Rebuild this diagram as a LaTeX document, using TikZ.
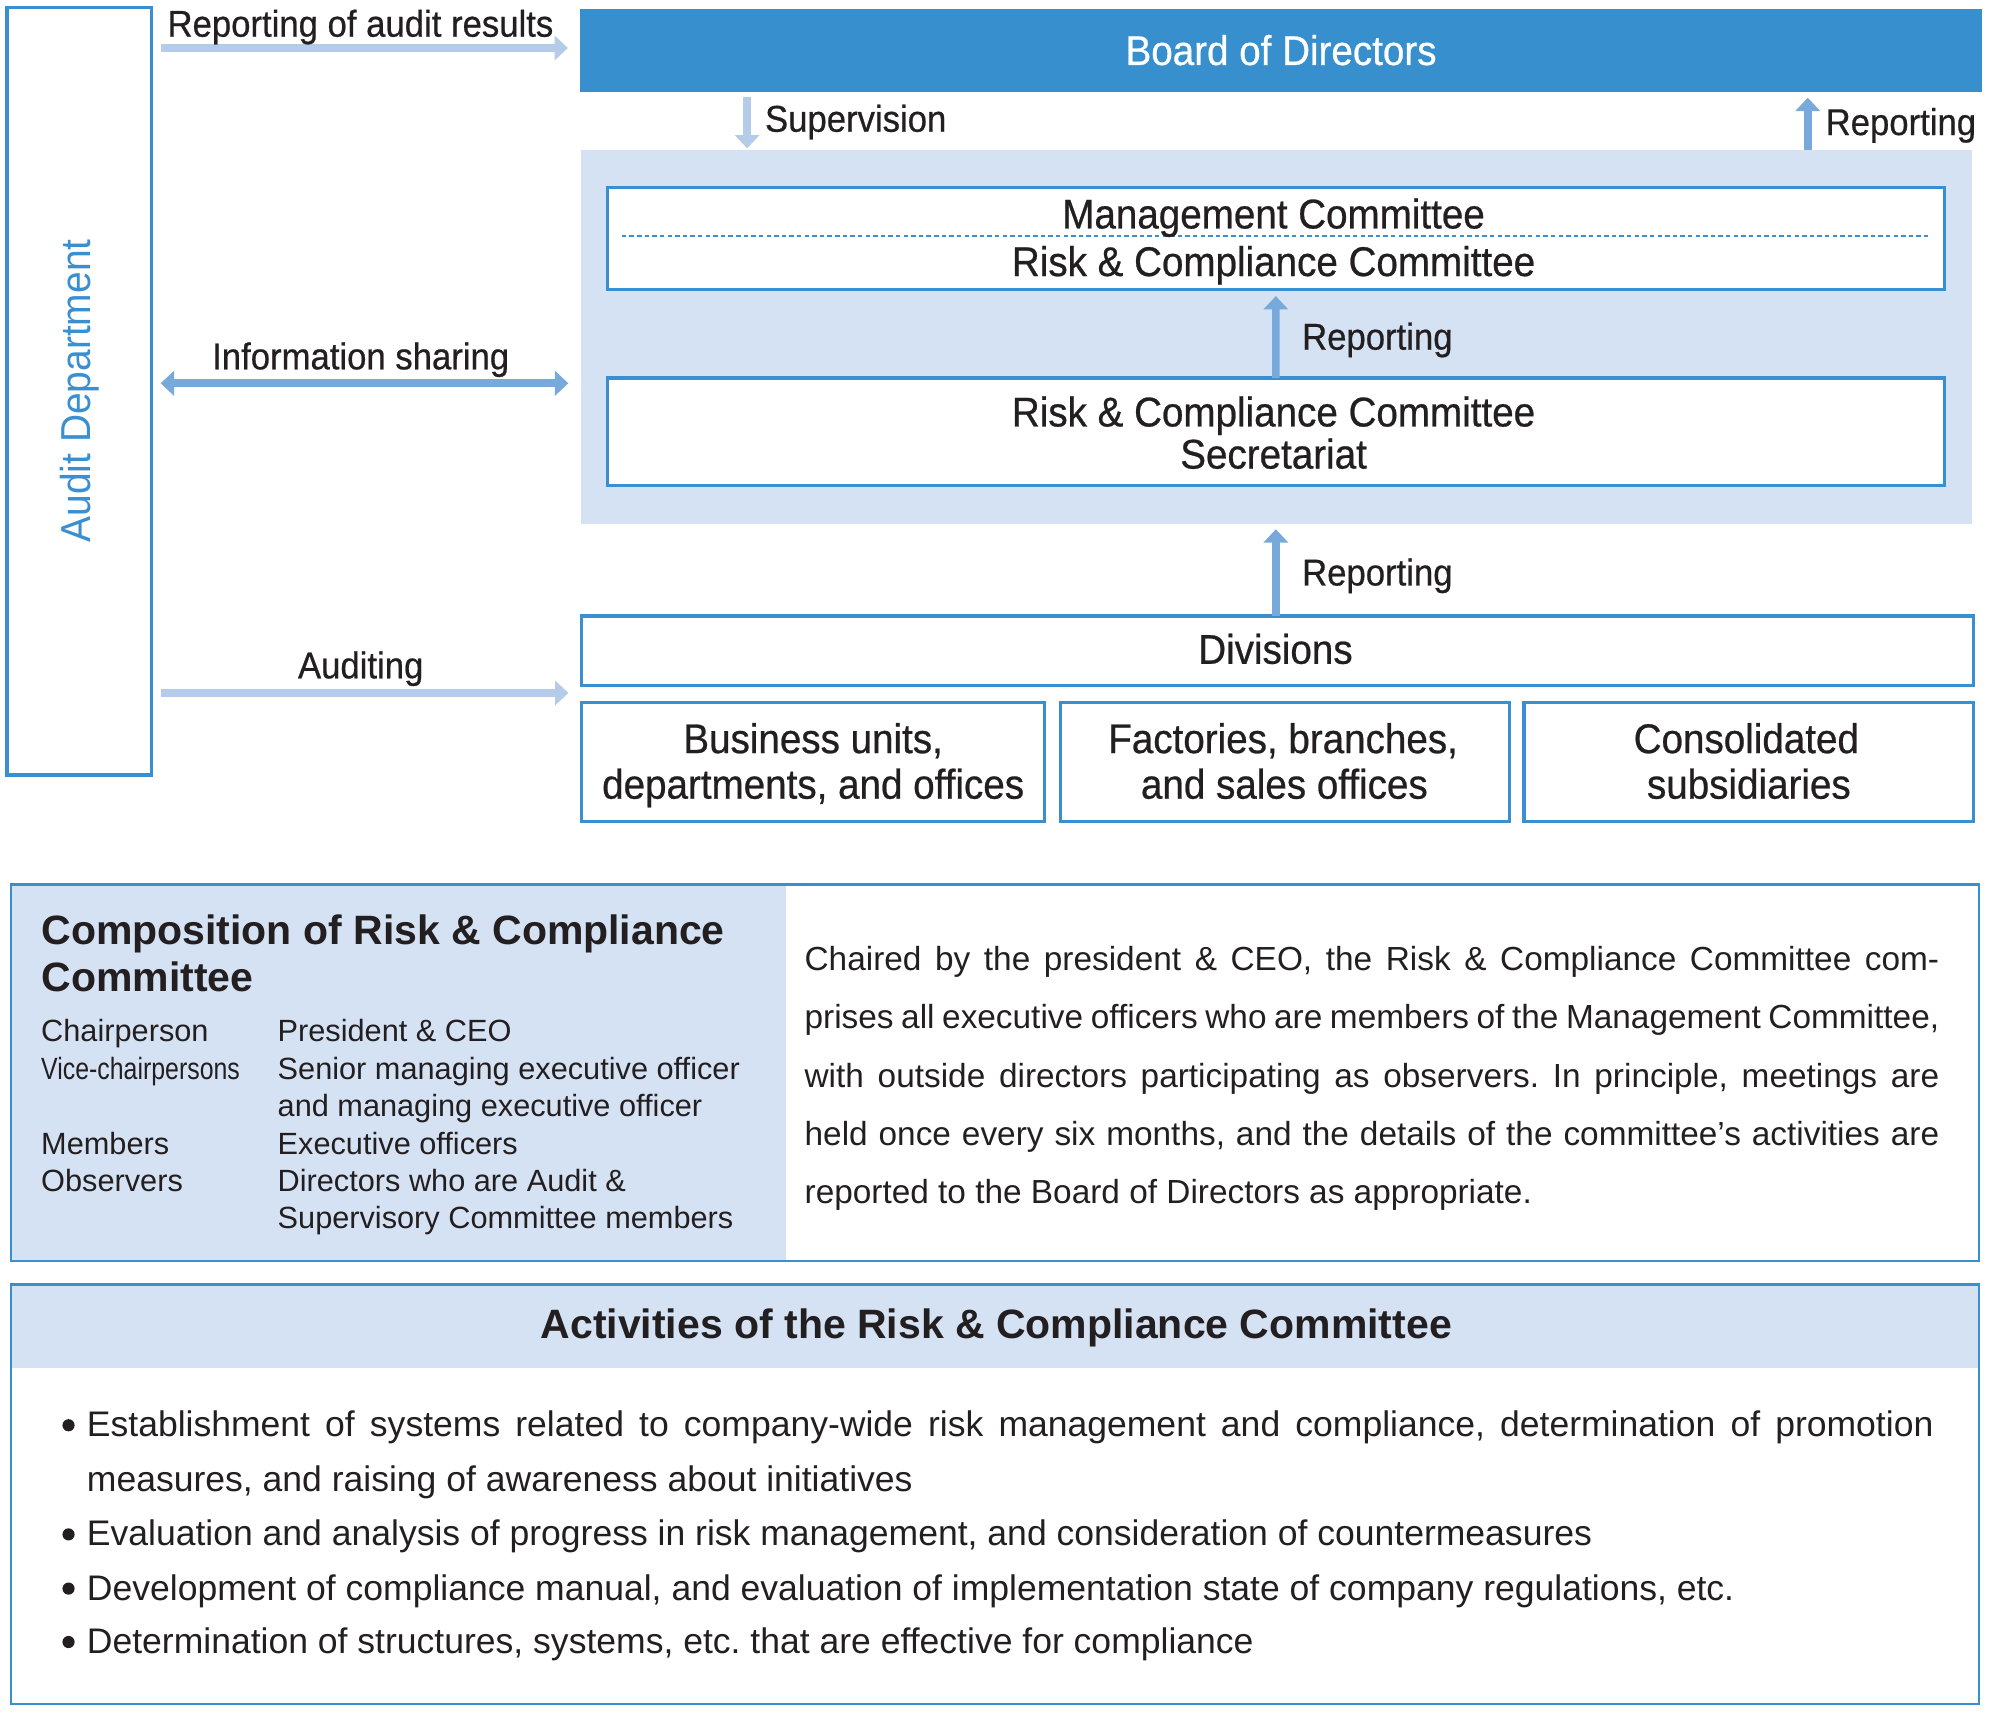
\documentclass[tikz,border=0pt]{standalone}
\usepackage{fontspec}
\setmainfont{Liberation Sans}
\newfontfamily\condfont[FakeStretch=0.93,FakeBold=0.6]{Liberation Sans}
\newfontfamily\vicefont[FakeStretch=0.81]{Liberation Sans}
\newfontfamily\auditfont[FakeStretch=0.93]{Liberation Sans}
\usetikzlibrary{arrows.meta}
\definecolor{bdark}{RGB}{55,143,206}
\definecolor{bline}{RGB}{58,143,208}
\definecolor{bpanel}{RGB}{213,226,243}
\definecolor{alight}{RGB}{180,204,234}
\definecolor{amed}{RGB}{120,169,219}
\definecolor{txtc}{RGB}{35,31,32}
\frenchspacing
\begin{document}
\begin{tikzpicture}[x=1pt,y=-1pt,
  every node/.style={inner sep=0pt,outer sep=0pt,text=txtc},
  boxtext/.style={anchor=base,font=\condfont\fontsize{32.7pt}{36pt}\selectfont},
  flowlabel/.style={font=\condfont\fontsize{29.4pt}{32pt}\selectfont},
  bluebox/.style={draw=bline,line width=2.7pt,fill=white},
  arrlight/.style={draw=alight,line width=6pt,-{Triangle[width=19pt,length=10.5pt]}},
  arrmed/.style={draw=amed,line width=6pt,-{Triangle[width=19pt,length=10.5pt]}},
  arrboth/.style={draw=amed,line width=6pt,{Triangle[width=19pt,length=10.5pt]}-{Triangle[width=19pt,length=10.5pt]}},
  tabtext/.style={anchor=base west,font=\fontsize{24.2pt}{29pt}\selectfont},
  paratext/.style={anchor=base west,font=\fontsize{26.3pt}{46pt}\selectfont},
  bullettext/.style={anchor=base west,font=\fontsize{28pt}{43pt}\selectfont},
  bulletdot/.style={circle,fill=txtc,minimum size=9.6pt},
  headtext/.style={font=\bfseries\fontsize{32.3pt}{38pt}\selectfont}
]
\useasboundingbox (0,0) rectangle (1568,1351.3);

% ---------- Audit department ----------
\node[bluebox,line width=2.6pt,minimum width=113.8pt,minimum height=604.7pt] (audit) at (62.4,308.35) {};
\node[rotate=90,anchor=base,text=bline,font=\auditfont\fontsize{33pt}{36pt}\selectfont] (audittxt) at (71.5,308) {Audit Department};

% ---------- Board ----------
\node[fill=bdark,minimum width=1104.4pt,minimum height=65.1pt] (board) at (1009.4,39.65) {};
\node[boxtext,text=white] (boardtxt) at (1009.4,51.2) {Board of Directors};

% ---------- Panel ----------
\node[fill=bpanel,minimum width=1096.2pt,minimum height=294.8pt] (panel) at (1005.6,265.6) {};

\node[bluebox,minimum width=1053.5pt,minimum height=80.4pt] (mgmt) at (1005.25,187.8) {};
\draw[bline,line width=1.1pt,dash pattern=on 3.5pt off 2.5pt] ([xshift=11.5pt]mgmt.west |- 0,186) -- ([xshift=-13pt]mgmt.east |- 0,186);
\node[boxtext] (mgmt1) at (1003.5,180) {Management Committee};
\node[boxtext] (mgmt2) at (1003.5,217.5) {Risk \& Compliance Committee};

\node[bluebox,minimum width=1053.7pt,minimum height=84.5pt] (secr) at (1005.3,340.2) {};
\node[boxtext] (secr1) at (1003.5,336) {Risk \& Compliance Committee};
\node[boxtext] (secr2) at (1003.5,369.2) {Secretariat};

% ---------- Divisions ----------
\node[bluebox,minimum width=1096.8pt,minimum height=54.7pt] (div) at (1006.8,512.75) {};
\node[boxtext] (divtxt) at (1005,523) {Divisions};

\node[bluebox,minimum width=364.6pt,minimum height=93.7pt] (b1) at (640.7,600.25) {};
\node[bluebox,minimum width=353.5pt,minimum height=93.7pt] (b2) at (1012.55,600.25) {};
\node[bluebox,minimum width=354.5pt,minimum height=93.7pt] (b3) at (1377.95,600.25) {};
\node[boxtext] (b1a) at (640.7,593.4) {Business units,};
\node[boxtext] (b1b) at (640.7,629.3) {departments, and offices};
\node[boxtext] (b2a) at (1011,593.4) {Factories, branches,};
\node[boxtext] (b2b) at (1012,629.3) {and sales offices};
\node[boxtext] (b3a) at (1376,593.4) {Consolidated};
\node[boxtext] (b3b) at (1378,629.3) {subsidiaries};

% ---------- Connectors ----------
\coordinate (yA) at (0,37.8);
\coordinate (yI) at (0,302);
\coordinate (yD) at (0,546);
\coordinate (xS) at (588.7,0);
\coordinate (xR) at (1424.4,0);

\draw[arrlight] ([xshift=7.3pt]audit.east |- yA) -- ([xshift=-9.7pt]board.west |- yA);
\draw[arrboth] ([xshift=7.3pt]audit.east |- yI) -- ([xshift=-9.7pt]panel.west |- yI);
\draw[arrlight] ([xshift=7.3pt]audit.east |- yD) -- ([xshift=-10.5pt]div.west |- yD);

\draw[arrlight] ([yshift=-4pt]board.south -| xS) -- ([yshift=1.3pt]panel.north -| xS);
\draw[arrmed] (panel.north -| xR) -- ([yshift=-4.8pt]board.south -| xR);
\draw[arrmed] (secr.north) -- ([yshift=-5.3pt]mgmt.south);
\draw[arrmed] (div.north -| secr.north) -- ([yshift=-4pt]panel.south -| secr.north);

\node[flowlabel,anchor=base] (lA) at (284,28.9) {Reporting of audit results};
\node[flowlabel,anchor=base] (lI) at (284.2,291) {Information sharing};
\node[flowlabel,anchor=base] (lD) at (284.2,534.5) {Auditing};
\node[flowlabel,anchor=base west] (lS) at (602.8,103.8) {Supervision};
\node[flowlabel,anchor=base west] (lR) at (1438.5,106.4) {Reporting};
\node[flowlabel,anchor=base west] (lM) at (1026,275.5) {Reporting};
\node[flowlabel,anchor=base west] (lL) at (1026,461.3) {Reporting};

% ---------- Composition box ----------
\fill[bpanel] (8.9,696.9) rectangle (619,993.3);
\node[draw=bline,line width=1.8pt,minimum width=1550.2pt,minimum height=296.4pt] (comp) at (784,845.1) {};
\node[headtext,anchor=base west] (ch1) at (32.7,743.9) {Composition of Risk \& Compliance};
\node[headtext,anchor=base west] (ch2) at (32.7,781.4) {Committee};

\node[tabtext] (r1a) at (32.5,820.8) {Chairperson};
\node[tabtext,font=\vicefont\fontsize{24.2pt}{29pt}\selectfont] (r2a) at (32.5,850.5) {Vice-chairpersons};
\node[tabtext] (r4a) at (32.5,909.3) {Members};
\node[tabtext] (r5a) at (32.5,938.5) {Observers};
\node[tabtext] (r1b) at (218.8,820.8) {President \& CEO};
\node[tabtext] (r2b) at (218.8,850.5) {Senior managing executive officer};
\node[tabtext] (r3b) at (218.8,880) {and managing executive officer};
\node[tabtext] (r4b) at (218.8,909.3) {Executive officers};
\node[tabtext] (r5b) at (218.8,938.5) {Directors who are Audit \&};
\node[tabtext] (r6b) at (218.8,967.9) {Supervisory Committee members};

\node[paratext] (p1) at (634,764.3) {\makebox[894pt][s]{Chaired by the president \& CEO, the Risk \& Compliance Committee com-}};
\node[paratext] (p2) at (634,810.3) {\makebox[894pt][s]{prises all executive officers who are members of the Management Committee,}};
\node[paratext] (p3) at (634,856.8) {\makebox[894pt][s]{with outside directors participating as observers. In principle, meetings are}};
\node[paratext] (p4) at (634,902.2) {\makebox[894pt][s]{held once every six months, and the details of the committee’s activities are}};
\node[paratext] (p5) at (634,948.2) {reported to the Board of Directors as appropriate.};

% ---------- Activities box ----------
\fill[bpanel] (8.9,1012.1) rectangle (1559.1,1077.7);
\node[draw=bline,line width=1.8pt,minimum width=1550.2pt,minimum height=330.5pt] (act) at (784,1177.35) {};
\node[headtext,anchor=base] (acttitle) at (785,1054.6) {Activities of the Risk \& Compliance Committee};

\node[bulletdot] (d1) at (54,1123) {};
\node[bullettext] (t1a) at (68.5,1132) {\makebox[1455pt][s]{Establishment of systems related to company-wide risk management and compliance, determination of promotion}};
\node[bullettext] (t1b) at (68.5,1175.4) {measures, and raising of awareness about initiatives};
\node[bulletdot] (d2) at (54,1209) {};
\node[bullettext] (t2) at (68.5,1218) {Evaluation and analysis of progress in risk management, and consideration of countermeasures};
\node[bulletdot] (d3) at (54,1251.7) {};
\node[bullettext] (t3) at (68.5,1260.7) {Development of compliance manual, and evaluation of implementation state of company regulations, etc.};
\node[bulletdot] (d4) at (54,1293.8) {};
\node[bullettext] (t4) at (68.5,1302.8) {Determination of structures, systems, etc. that are effective for compliance};
\end{tikzpicture}
\end{document}
